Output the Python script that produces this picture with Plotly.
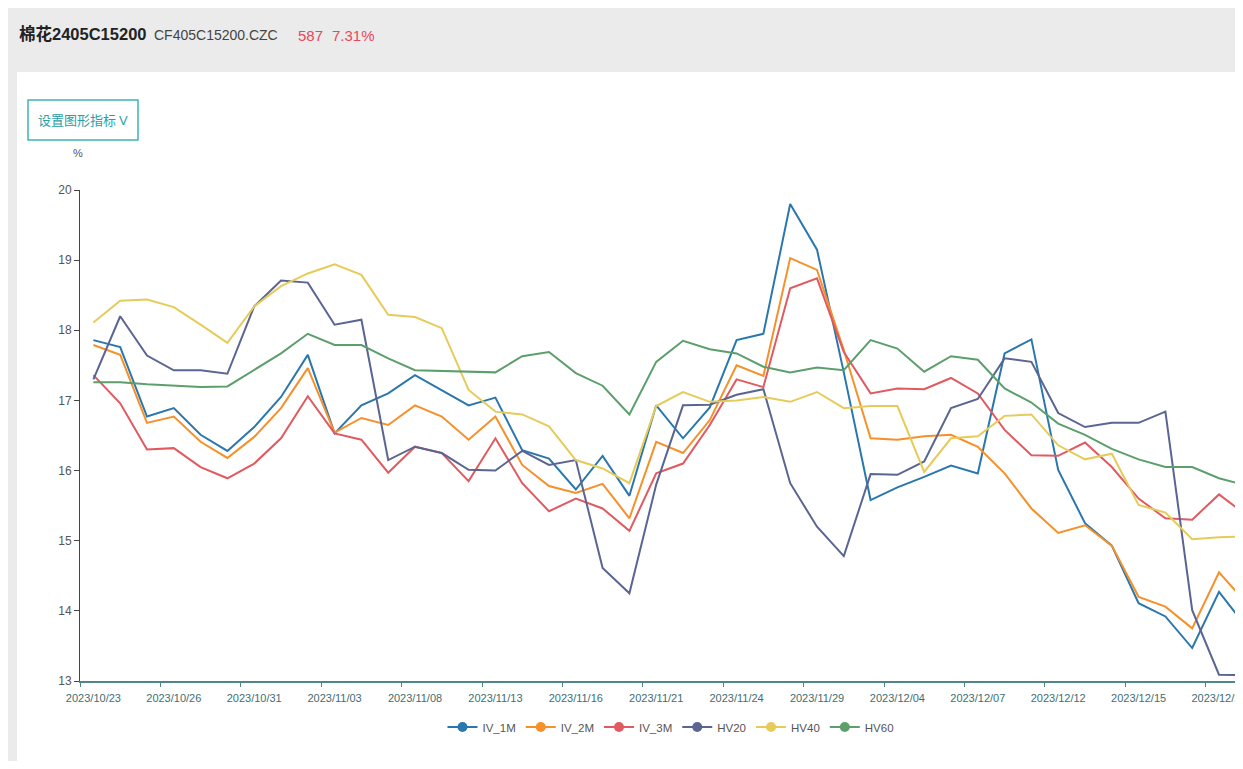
import plotly.graph_objects as go

# ---- data ----
dates = ["2023/10/23", "2023/10/24", "2023/10/25", "2023/10/26", "2023/10/27", "2023/10/30",
         "2023/10/31", "2023/11/01", "2023/11/02", "2023/11/03", "2023/11/06", "2023/11/07",
         "2023/11/08", "2023/11/09", "2023/11/10", "2023/11/13", "2023/11/14", "2023/11/15",
         "2023/11/16", "2023/11/17", "2023/11/20", "2023/11/21", "2023/11/22", "2023/11/23",
         "2023/11/24", "2023/11/27", "2023/11/28", "2023/11/29", "2023/11/30", "2023/12/01",
         "2023/12/04", "2023/12/05", "2023/12/06", "2023/12/07", "2023/12/08", "2023/12/11",
         "2023/12/12", "2023/12/13", "2023/12/14", "2023/12/15", "2023/12/18", "2023/12/19",
         "2023/12/20", "2023/12/21"]

iv_1m = [17.86, 17.76, 16.77, 16.89, 16.51, 16.28, 16.62, 17.05, 17.65, 16.53, 16.93, 17.10,
         17.36, 17.15, 16.93, 17.04, 16.29, 16.17, 15.73, 16.21, 15.64, 16.93, 16.46, 16.90,
         17.86, 17.95, 19.80, 19.15, 17.40, 15.58, 15.76, 15.91, 16.07, 15.96, 17.67, 17.87,
         16.01, 15.25, 14.93, 14.11, 13.92, 13.47, 14.27, 13.78]
iv_2m = [17.79, 17.65, 16.68, 16.77, 16.41, 16.18, 16.48, 16.89, 17.46, 16.54, 16.75, 16.65,
         16.93, 16.77, 16.44, 16.77, 16.08, 15.78, 15.68, 15.81, 15.32, 16.41, 16.25, 16.72,
         17.50, 17.35, 19.03, 18.86, 17.72, 16.46, 16.44, 16.49, 16.51, 16.34, 15.96, 15.46,
         15.11, 15.22, 14.93, 14.20, 14.06, 13.75, 14.55, 14.12]
iv_3m = [17.36, 16.96, 16.30, 16.32, 16.05, 15.89, 16.10, 16.46, 17.06, 16.53, 16.44, 15.97,
         16.34, 16.25, 15.85, 16.46, 15.82, 15.42, 15.60, 15.46, 15.14, 15.96, 16.10, 16.65,
         17.30, 17.19, 18.60, 18.74, 17.69, 17.10, 17.17, 17.16, 17.32, 17.10, 16.58, 16.22,
         16.21, 16.40, 16.05, 15.60, 15.32, 15.30, 15.66, 15.37]
hv20 = [17.30, 18.20, 17.64, 17.43, 17.43, 17.38, 18.34, 18.71, 18.68, 18.08, 18.15, 16.15,
        16.34, 16.25, 16.01, 16.00, 16.28, 16.08, 16.15, 14.61, 14.25, 15.80, 16.93, 16.94,
        17.08, 17.16, 15.82, 15.20, 14.78, 15.95, 15.94, 16.13, 16.89, 17.02, 17.60, 17.55,
        16.82, 16.62, 16.68, 16.68, 16.84, 14.01, 13.09, 13.08]
hv40 = [18.11, 18.42, 18.44, 18.33, 18.08, 17.82, 18.34, 18.63, 18.81, 18.94, 18.79, 18.22,
        18.19, 18.03, 17.15, 16.84, 16.80, 16.63, 16.15, 16.03, 15.82, 16.92, 17.12, 16.98,
        17.00, 17.05, 16.98, 17.12, 16.89, 16.92, 16.92, 15.98, 16.46, 16.49, 16.78, 16.80,
        16.36, 16.16, 16.24, 15.51, 15.40, 15.02, 15.05, 15.06]
hv60 = [17.26, 17.26, 17.23, 17.21, 17.19, 17.20, 17.43, 17.67, 17.95, 17.79, 17.79, 17.60,
        17.43, 17.42, 17.42, 17.40, 17.63, 17.69, 17.39, 17.21, 16.80, 17.55, 17.85, 17.73,
        17.67, 17.48, 17.40, 17.47, 17.43, 17.86, 17.74, 17.41, 17.63, 17.58, 17.17, 16.97,
        16.67, 16.51, 16.31, 16.16, 16.05, 16.05, 15.89, 15.79]

series_names = ["IV_1M", "IV_2M", "IV_3M", "HV20", "HV40", "HV60"]
series_values = [iv_1m, iv_2m, iv_3m, hv20, hv40, hv60]
series_colors = ["#2a77ad", "#f5902a", "#e05a60", "#5a6591", "#e6cb5a", "#5c9f6c"]

y_ticks = [13, 14, 15, 16, 17, 18, 19, 20]
label_step = 3

# ---- layout geometry (figure is placed at an 8px page offset) ----
OFF = 8
W, H = 1300, 753
L, R, T, B = 72, 0, 182, 80
PW, PH = W - L - R, H - T - B
STEP = 26.8  # px per category
x_max = -0.5 + PW / STEP


def px(sx):
    return (sx - OFF - L) / PW


def py(sy):
    return (H - B - (sy - OFF)) / PH


SANS = "Liberation Sans, Arial, Noto Sans CJK SC, sans-serif"
CJK = "Noto Sans CJK SC, Liberation Sans, sans-serif"
AXIS_TEAL = "#4f8787"

fig = go.Figure()
for name, vals, col in zip(series_names, series_values, series_colors):
    fig.add_trace(go.Scatter(x=dates, y=vals, name=name, mode="lines",
                             line=dict(color=col, width=2), showlegend=False,
                             legendgroup=name))
# legend proxies (line + circle icon)
for name, col in zip(series_names, series_colors):
    fig.add_trace(go.Scatter(x=[None], y=[None], xaxis="x2", name=name, mode="lines+markers",
                             line=dict(color=col, width=2), marker=dict(size=10, color=col),
                             legendgroup=name, showlegend=True))

fig.update_layout(
    width=W, height=H,
    margin=dict(l=L, r=R, t=T, b=B, pad=0),
    paper_bgcolor="#ebebeb",
    plot_bgcolor="white",
    font=dict(family=SANS, color="#555"),
    xaxis=dict(type="category", categoryorder="array", categoryarray=dates,
               range=[-0.5, x_max], tickvals=dates[::label_step],
               ticks="outside", ticklen=6, tickcolor="rgba(0,0,0,0)",
               showline=True, linecolor=AXIS_TEAL, linewidth=2,
               tickfont=dict(family=SANS, size=11, color="#3e6e72"),
               showgrid=False, zeroline=False),
    xaxis2=dict(overlaying="x", anchor="y", side="bottom", type="linear",
                range=[-0.5, x_max],
                tickvals=[k - 0.5 for k in range(0, len(dates), label_step)],
                ticks="outside", ticklen=5, tickcolor=AXIS_TEAL, tickwidth=1,
                showticklabels=False, showgrid=False, showline=False, zeroline=False),
    yaxis=dict(range=[13, 20], tickvals=y_ticks, ticks="outside", ticklen=5,
               tickcolor="#444", showline=True, linecolor="#444", linewidth=1,
               tickfont=dict(family=SANS, size=12, color="#555"),
               showgrid=False, zeroline=False),
    legend=dict(orientation="h", x=px(671), xanchor="center", y=py(727), yanchor="middle",
                font=dict(family=SANS, size=11.5, color="#555"), itemwidth=30,
                bgcolor="rgba(0,0,0,0)", traceorder="normal"),
    showlegend=True,
    shapes=[
        dict(type="rect", xref="paper", yref="paper", x0=px(17), x1=1.01,
             y0=-0.2, y1=py(72), fillcolor="white", line=dict(width=0), layer="below"),
        dict(type="rect", xref="paper", yref="paper", x0=px(28), x1=px(138),
             y0=py(140), y1=py(100), fillcolor="white",
             line=dict(color="#3db5b9", width=1.5), layer="below"),
    ],
    annotations=[
        dict(xref="paper", yref="paper", x=px(17), y=py(34), xanchor="left", yanchor="middle",
             text="<b>棉花2405C15200</b>", showarrow=False,
             font=dict(family=SANS, size=16.5, color="#222")),
        dict(xref="paper", yref="paper", x=px(152), y=py(35), xanchor="left", yanchor="middle",
             text="CF405C15200.CZC", showarrow=False,
             font=dict(family=SANS, size=14, color="#444")),
        dict(xref="paper", yref="paper", x=px(296), y=py(35), xanchor="left", yanchor="middle",
             text="587", showarrow=False,
             font=dict(family=SANS, size=15, color="#e8485a")),
        dict(xref="paper", yref="paper", x=px(330), y=py(35), xanchor="left", yanchor="middle",
             text="7.31%", showarrow=False,
             font=dict(family=SANS, size=15, color="#e8485a")),
        dict(xref="paper", yref="paper", x=px(83), y=py(120), xanchor="center", yanchor="middle",
             text="设置图形指标 <span style='font-family:Liberation Sans'>V</span>",
             showarrow=False, font=dict(family=CJK, size=13, color="#2a9fa8")),
        dict(xref="paper", yref="paper", x=px(78), y=py(153), xanchor="center", yanchor="middle",
             text="%", showarrow=False, font=dict(family=SANS, size=11, color="#555")),
    ],
)

fig.write_html("out.html")
